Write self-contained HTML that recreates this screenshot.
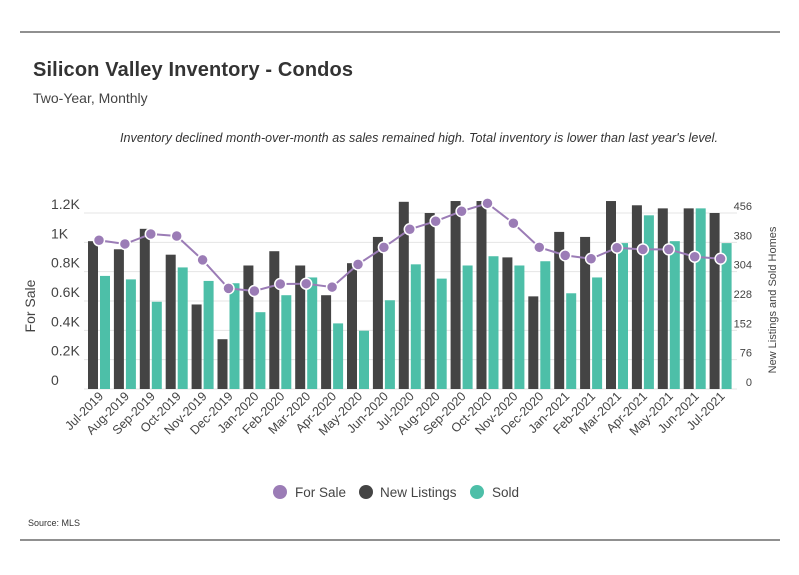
<!DOCTYPE html>
<html><head><meta charset="utf-8"><style>
body{margin:0;background:#fff;}
svg{display:block;font-family:"Liberation Sans",sans-serif;}
</style></head><body>
<svg width="799" height="575" viewBox="0 0 799 575">
<line x1="20" y1="32" x2="780" y2="32" stroke="#222" stroke-width="1"/>
<line x1="20" y1="540" x2="780" y2="540" stroke="#222" stroke-width="1"/>
<text x="33" y="76" font-size="20" font-weight="bold" fill="#333" textLength="320">Silicon Valley Inventory - Condos</text>
<text x="33" y="103" font-size="14" fill="#444">Two-Year, Monthly</text>
<text x="120" y="142" font-size="12.5" font-style="italic" fill="#333" textLength="598">Inventory declined month-over-month as sales remained high. Total inventory is lower than last year's level.</text>
<g id="grid"></g><g id="bars"></g><g id="line"></g><g id="axes"></g>
<text transform="translate(35,306) rotate(-90)" font-size="14" fill="#444" text-anchor="middle">For Sale</text>
<text transform="translate(776,300) rotate(-90)" font-size="11" fill="#444" text-anchor="middle">New Listings and Sold Homes</text>
<g>
<g><circle cx="280" cy="492" r="7" fill="#9b7cb6"/><text x="295" y="497" font-size="13.5" fill="#444">For Sale</text></g>
<g><circle cx="366" cy="492" r="7" fill="#444"/><text x="380" y="497" font-size="13.5" fill="#444">New Listings</text></g>
<g><circle cx="477" cy="492" r="7" fill="#4dbfa8"/><text x="492" y="497" font-size="13.5" fill="#444">Sold</text></g>
</g>
<text x="28" y="526" font-size="9" fill="#333">Source:  MLS</text>
</svg>
<script>
const categories=["Jul-2019","Aug-2019","Sep-2019","Oct-2019","Nov-2019","Dec-2019","Jan-2020","Feb-2020","Mar-2020","Apr-2020","May-2020","Jun-2020","Jul-2020","Aug-2020","Sep-2020","Oct-2020","Nov-2020","Dec-2020","Jan-2021","Feb-2021","Mar-2021","Apr-2021","May-2021","Jun-2021","Jul-2021"];
const newListings=[383,362,415,348,219,129,320,357,320,243,326,394,485,456,487,487,341,240,407,394,487,476,468,468,456];
const sold=[293,284,226,315,280,274,199,243,289,170,151,230,323,286,320,344,320,331,248,289,378,450,383,468,378];
const forSale=[1014,989,1057,1043,880,686,668,716,718,695,850,966,1089,1144,1212,1266,1130,966,911,888,963,952,952,902,888];
const leftTicks=[0,200,400,600,800,1000,1200];
const leftTickLabels=["0","0.2K","0.4K","0.6K","0.8K","1K","1.2K"];
const rightTicks=[0,76,152,228,304,380,456];
const NS="http://www.w3.org/2000/svg";
const y0=389,y1=213,x0=88,step=25.9;
function yL(v){return y0-(v/1200)*(y0-y1);}
function yR(v){return y0-(v/456)*(y0-y1);}
function xG(i){return x0+i*step;}
function mk(t,a,p){const e=document.createElementNS(NS,t);for(const k in a)e.setAttribute(k,a[k]);p.appendChild(e);return e;}
const grid=document.getElementById('grid'),bars=document.getElementById('bars'),line=document.getElementById('line'),axes=document.getElementById('axes');
leftTicks.forEach((v,i)=>{
 const g=mk('line',{x1:84,x2:737,y1:yL(v),y2:yL(v),stroke:'#e4e4e4','stroke-width':1},grid);
 
 
 const t=mk('text',{x:51,y:yL(v)-4,'font-size':14,fill:'#444'},axes);t.textContent=leftTickLabels[i];
 
 
});
rightTicks.forEach(v=>{
 const t=mk('text',{x:752,y:yR(v)-3,'font-size':11,fill:'#444','text-anchor':'end'},axes);t.textContent=v;
 
 
});
categories.forEach((c,i)=>{
 const x=xG(i);
 const b=mk('rect',{x:x,y:yR(newListings[i]),width:10,height:y0-yR(newListings[i]),fill:'#444'},bars);
 
 
 const s=mk('rect',{x:x+12,y:yR(sold[i]),width:10,height:y0-yR(sold[i]),fill:'#4dbfa8'},bars);
 
 
 const t=mk('text',{transform:`translate(${x+16},${y0+8}) rotate(-45)`,'font-size':12.5,fill:'#444','text-anchor':'end'},axes);t.textContent=c;
 
 
});
const pts=forSale.map((v,i)=>[xG(i)+11,yL(v)]);
const pl=mk('polyline',{points:pts.map(p=>p.join(',')).join(' '),fill:'none',stroke:'#9b7cb6','stroke-width':2},line);


pts.forEach(p=>{
 const c=mk('circle',{cx:p[0],cy:p[1],r:5.5,fill:'#9b7cb6',stroke:'#fff','stroke-width':1.5},line);
 
 
});
</script>
</body></html>
